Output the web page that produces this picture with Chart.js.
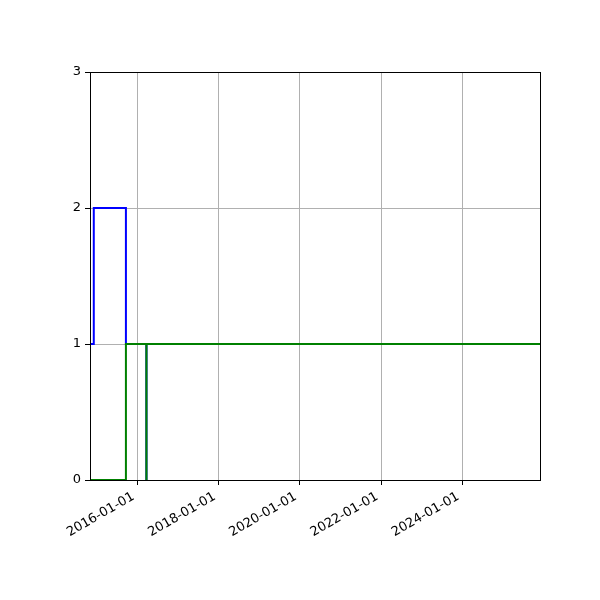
<!DOCTYPE html>
<html>
<head>
<meta charset="utf-8">
<script src="https://cdn.jsdelivr.net/npm/chart.js@4"></script>
<style>
  html, body { margin: 0; padding: 0; background: #fff; }
  #wrap { width: 600px; height: 600px; }
</style>
</head>
<body>
<div id="wrap"><canvas id="stepChart" width="600" height="600"></canvas></div>
<script>
// step values (held until the next date)
const blueDates = ['2014-11-01', '2014-12-05', '2015-09-20', '2016-03-22', '2016-03-23', '2025-11-30'];
const blueValues = [1, 2, 1, 0, 1, 1];
const greenDates = ['2014-11-01', '2015-09-20', '2016-03-22', '2016-03-23', '2025-11-30'];
const greenValues = [0, 1, 0, 1, 1];
const xTickLabels = ['2016-01-01', '2018-01-01', '2020-01-01', '2022-01-01', '2024-01-01'];
const yTicks = [0, 1, 2, 3];

const toMs = s => Date.parse(s + 'T00:00:00Z');
const toPoints = (dates, values) => dates.map((d, i) => ({ x: toMs(d), y: values[i] }));

const fmtDate = ms => new Date(ms).toISOString().slice(0, 10);

// full box around the plot, like matplotlib spines
const frame = {
  id: 'frame',
  afterDatasetsDraw(chart) {
    const a = chart.chartArea;
    const c = chart.ctx;
    c.save();
    c.strokeStyle = '#000';
    c.lineWidth = 1;
    c.strokeRect(Math.round(a.left) + 0.5, Math.round(a.top) + 0.5,
      Math.round(a.right - a.left), Math.round(a.bottom - a.top));
    c.restore();
  }
};

const ctx = document.getElementById('stepChart').getContext('2d');
new Chart(ctx, {
  type: 'line',
  data: {
    datasets: [
      {
        data: toPoints(blueDates, blueValues),
        borderColor: '#0000ff',
        borderWidth: 2,
        stepped: 'before',
        pointRadius: 0,
        fill: false,
        order: 2
      },
      {
        data: toPoints(greenDates, greenValues),
        borderColor: '#008000',
        borderWidth: 2,
        stepped: 'before',
        pointRadius: 0,
        fill: false,
        order: 1 // drawn on top of blue
      }
    ]
  },
  options: {
    responsive: false,
    animation: false,
    layout: { padding: { left: 0, top: 72, right: 60, bottom: 0 } },
    plugins: { legend: { display: false }, tooltip: { enabled: false } },
    scales: {
      x: {
        type: 'linear',
        min: toMs(blueDates[0]),
        max: toMs(blueDates[blueDates.length - 1]),
        afterBuildTicks: scale => {
          scale.ticks = xTickLabels.map(s => ({ value: toMs(s) }));
        },
        afterFit: scale => { scale.height = 120; },
        ticks: {
          color: '#000',
          font: { family: 'DejaVu Sans', size: 13 },
          minRotation: 30,
          maxRotation: 30,
          padding: 4,
          labelOffset: -4,
          callback: value => fmtDate(value)
        },
        grid: { color: '#b0b0b0', tickColor: '#000', tickLength: 5, lineWidth: 1 },
        border: { color: '#000' }
      },
      y: {
        min: 0,
        max: 3,
        afterBuildTicks: scale => {
          scale.ticks = yTicks.map(v => ({ value: v }));
        },
        afterFit: scale => { scale.width = 90; },
        ticks: {
          color: '#000',
          font: { family: 'DejaVu Sans', size: 13 },
          padding: 4,
          callback: value => String(value)
        },
        grid: { color: '#b0b0b0', tickColor: '#000', tickLength: 5, lineWidth: 1 },
        border: { color: '#000' }
      }
    }
  },
  plugins: [frame]
});
</script>
</body>
</html>
